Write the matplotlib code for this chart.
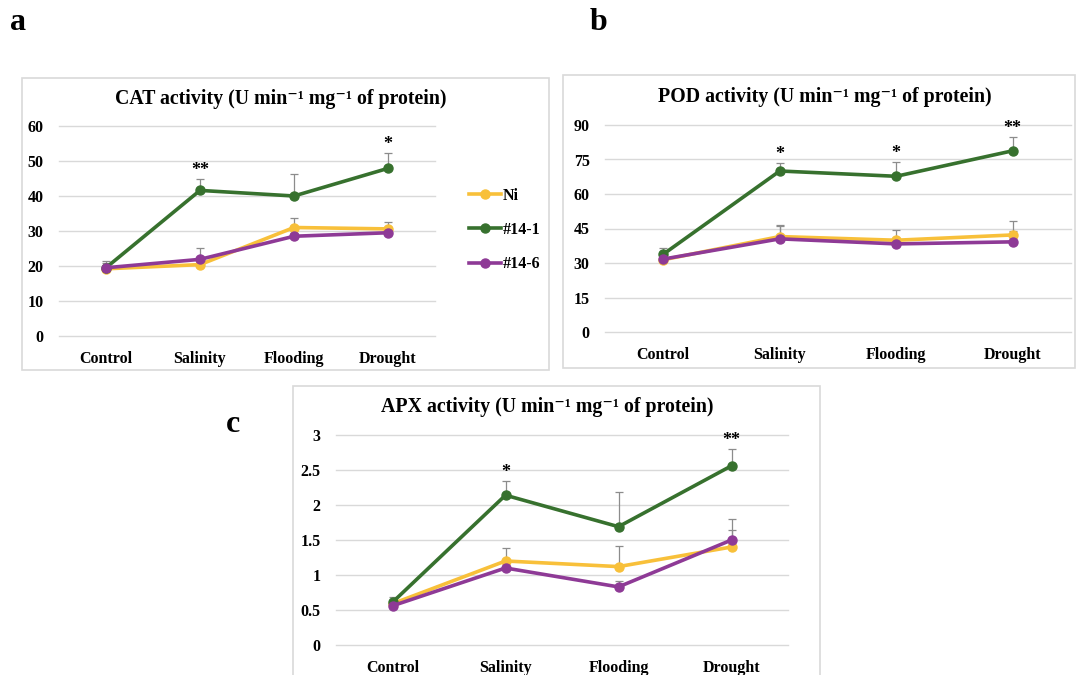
import numpy as np
import matplotlib
matplotlib.use("Agg")
import matplotlib.pyplot as plt
from matplotlib.patches import Rectangle

plt.rcParams['font.family'] = ['Liberation Serif', 'DejaVu Serif']
plt.rcParams['font.weight'] = 'bold'

W, H = 1079, 675

categories = ["Control", "Salinity", "Flooding", "Drought"]
series_names = ["Ni", "#14-1", "#14-6"]
colors = ["#F8C03A", "#37712E", "#8E3A96"]

# CAT
cat_ni = [19.2, 20.4, 31.0, 30.6]
cat_141 = [19.5, 41.6, 40.0, 47.9]
cat_146 = [19.5, 21.9, 28.5, 29.5]
cat_ni_err = [0.5, 0.8, 2.7, 1.9]
cat_141_err = [2.0, 3.2, 6.3, 4.5]
cat_146_err = [1.5, 3.3, 1.0, 1.0]
cat_stars = ["", "**", "", "*"]

# POD
pod_ni = [31.4, 41.5, 39.9, 42.2]
pod_141 = [33.8, 70.0, 67.7, 78.8]
pod_146 = [31.7, 40.5, 38.3, 39.2]
pod_ni_err = [1.5, 5.0, 4.6, 6.0]
pod_141_err = [2.6, 3.6, 6.2, 5.9]
pod_146_err = [1.0, 5.5, 2.5, 4.8]
pod_stars = ["", "*", "*", "**"]

# APX
apx_ni = [0.59, 1.20, 1.12, 1.40]
apx_141 = [0.61, 2.14, 1.69, 2.56]
apx_146 = [0.56, 1.10, 0.83, 1.50]
apx_ni_err = [0.05, 0.19, 0.30, 0.25]
apx_141_err = [0.07, 0.20, 0.49, 0.24]
apx_146_err = [0.04, 0.03, 0.09, 0.30]
apx_stars = ["", "*", "", "**"]


def px_rect(x0, y0, x1, y1):
    return [x0 / W, 1 - y1 / H, (x1 - x0) / W, (y1 - y0) / H]


fig = plt.figure(figsize=(W / 100, H / 100), dpi=100)


def panel(rect, vals, errs, stars, yticks, ylabels):
    ax = fig.add_axes(rect)
    x = np.arange(len(categories))
    for v, e, c, name in zip(vals, errs, colors, series_names):
        ax.errorbar(x, v, yerr=[np.zeros(len(e)), e], fmt='none',
                    ecolor='#8C8C8C', elinewidth=0.9, capsize=3, capthick=0.9, zorder=2)
        ax.plot(x, v, '-o', color=c, lw=2.6, ms=6.5, label=name, zorder=3)
    top = np.array(vals[1]) + np.array(errs[1])
    for xi, t, s in zip(x, top, stars):
        if s:
            ax.annotate(s, (xi, t), xytext=(0, 0), textcoords='offset points',
                        ha='center', va='bottom', fontsize=13, fontweight='bold')
    ax.set_xlim(-0.5, 3.5)
    ax.set_ylim(yticks[0], yticks[-1])
    ax.set_yticks(yticks)
    ax.set_yticklabels(ylabels)
    ax.set_xticks(x)
    ax.set_xticklabels(categories)
    ax.tick_params(length=0, labelsize=11.5, pad=11)
    for lab in ax.get_xticklabels() + ax.get_yticklabels():
        lab.set_fontweight('bold')
    ax.grid(axis='y', color='#D9D9D9', lw=1)
    for gl in ax.get_ygridlines():
        gl.set_clip_on(False)
    ax.set_axisbelow(True)
    for sp in ax.spines.values():
        sp.set_visible(False)
    return ax


# panel frames
for (x0, y0, x1, y1) in [(22, 78, 549, 370), (563, 75, 1075, 368), (293, 386, 820, 676)]:
    fig.patches.append(Rectangle((x0 / W, 1 - y1 / H), (x1 - x0) / W, (y1 - y0) / H,
                                 transform=fig.transFigure, fill=False,
                                 edgecolor='#D9D9D9', lw=1.2))

ax_a = panel(px_rect(59, 126, 435, 336),
             [cat_ni, cat_141, cat_146], [cat_ni_err, cat_141_err, cat_146_err],
             cat_stars, [0, 10, 20, 30, 40, 50, 60],
             ["0", "10", "20", "30", "40", "50", "60"])
ax_b = panel(px_rect(605, 125, 1071, 332),
             [pod_ni, pod_141, pod_146], [pod_ni_err, pod_141_err, pod_146_err],
             pod_stars, [0, 15, 30, 45, 60, 75, 90],
             ["0", "15", "30", "45", "60", "75", "90"])
ax_c = panel(px_rect(336, 435, 788, 645),
             [apx_ni, apx_141, apx_146], [apx_ni_err, apx_141_err, apx_146_err],
             apx_stars, [0, 0.5, 1, 1.5, 2, 2.5, 3],
             ["0", "0.5", "1", "1.5", "2", "2.5", "3"])

unit = " activity (U min\u207b\u00b9 mg\u207b\u00b9 of protein)"
fig.text(281 / W, 1 - 99 / H, "CAT" + unit, ha='center', va='center',
         fontsize=14.3, fontweight='bold')
fig.text(825 / W, 1 - 97 / H, "POD" + unit, ha='center', va='center',
         fontsize=14.3, fontweight='bold')
fig.text(547 / W, 1 - 407 / H, "APX" + unit, ha='center', va='center',
         fontsize=14.3, fontweight='bold')

fig.text(18 / W, 1 - 22 / H, "a", ha='center', va='center', fontsize=23, fontweight='bold')
fig.text(599 / W, 1 - 22 / H, "b", ha='center', va='center', fontsize=23, fontweight='bold')
fig.text(233 / W, 1 - 425 / H, "c", ha='center', va='center', fontsize=23, fontweight='bold')

ax_a.legend(loc='center left', bbox_to_anchor=(455 / W, 1 - 230 / H),
            bbox_transform=fig.transFigure, frameon=False,
            handlelength=2.0, handletextpad=0.1, labelspacing=1.15,
            prop={'weight': 'bold', 'size': 11.5})

fig.savefig("out.png", dpi=100)
